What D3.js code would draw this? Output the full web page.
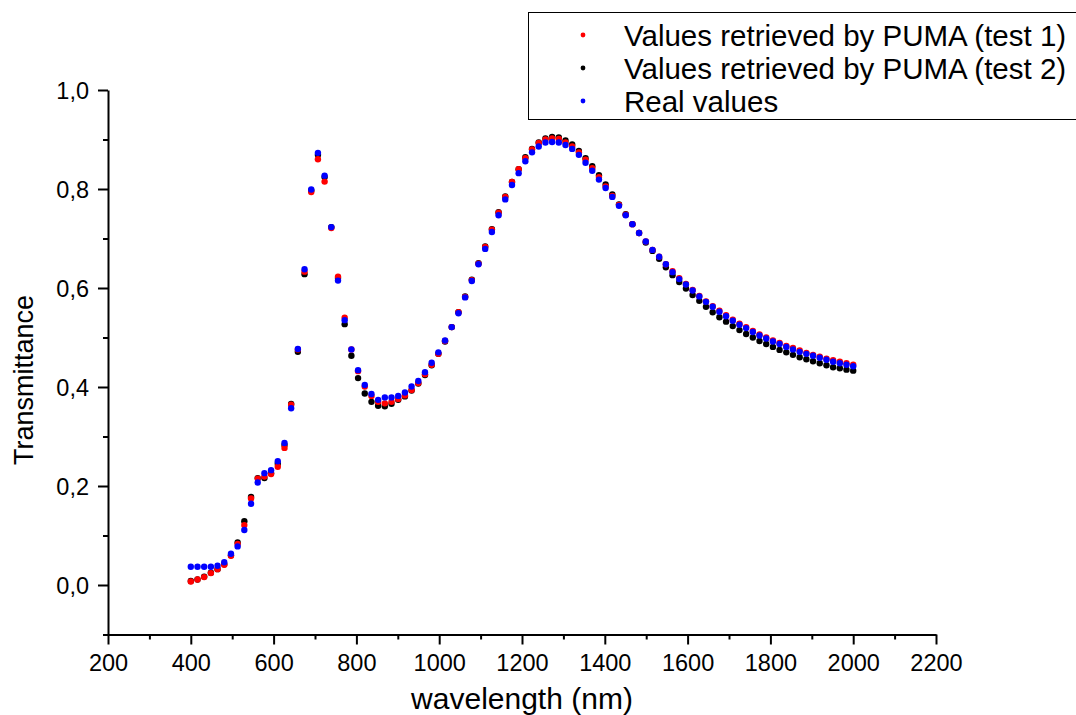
<!DOCTYPE html>
<html>
<head>
<meta charset="utf-8">
<script src="https://cdn.jsdelivr.net/npm/d3@7"></script>
<style>
  html, body { margin: 0; padding: 0; background: #fff; }
  svg { display: block; }
  text { font-family: "Liberation Sans", Arial, sans-serif; fill: #000; }
</style>
</head>
<body>
<svg id="chart" width="1076" height="715"></svg>
<script>
const wavelength = [
  400.0, 416.2, 432.3, 448.5, 464.6, 480.8, 497.0, 513.1, 529.3, 545.5,
  561.6, 577.8, 593.9, 610.1, 626.3, 642.4, 658.6, 674.7, 690.9, 707.1,
  723.2, 739.4, 755.6, 771.7, 787.9, 804.0, 820.2, 836.4, 852.5, 868.7,
  884.8, 901.0, 917.2, 933.3, 949.5, 965.7, 981.8, 998.0, 1014.1, 1030.3,
  1046.5, 1062.6, 1078.8, 1094.9, 1111.1, 1127.3, 1143.4, 1159.6, 1175.8, 1191.9,
  1208.1, 1224.2, 1240.4, 1256.6, 1272.7, 1288.9, 1305.1, 1321.2, 1337.4, 1353.5,
  1369.7, 1385.9, 1402.0, 1418.2, 1434.3, 1450.5, 1466.7, 1482.8, 1499.0, 1515.2,
  1531.3, 1547.5, 1563.6, 1579.8, 1596.0, 1612.1, 1628.3, 1644.4, 1660.6, 1676.8,
  1692.9, 1709.1, 1725.3, 1741.4, 1757.6, 1773.7, 1789.9, 1806.1, 1822.2, 1838.4,
  1854.5, 1870.7, 1886.9, 1903.0, 1919.2, 1935.4, 1951.5, 1967.7, 1983.8, 2000.0
];

const pumaTest1 = [
  0.007, 0.011, 0.016, 0.024, 0.032, 0.041, 0.059, 0.083, 0.121, 0.175,
  0.215, 0.219, 0.224, 0.239, 0.277, 0.364, 0.476, 0.633, 0.794, 0.860,
  0.815, 0.721, 0.623, 0.540, 0.476, 0.432, 0.401, 0.382, 0.370, 0.367,
  0.370, 0.376, 0.383, 0.394, 0.408, 0.426, 0.445, 0.467, 0.493, 0.521,
  0.551, 0.582, 0.616, 0.649, 0.683, 0.718, 0.752, 0.784, 0.814, 0.840,
  0.862, 0.880, 0.893, 0.900, 0.902, 0.901, 0.894, 0.886, 0.874, 0.859,
  0.842, 0.824, 0.805, 0.786, 0.768, 0.748, 0.729, 0.711, 0.694, 0.677,
  0.663, 0.648, 0.634, 0.620, 0.608, 0.596, 0.584, 0.573, 0.563, 0.554,
  0.545, 0.536, 0.528, 0.521, 0.513, 0.506, 0.500, 0.494, 0.489, 0.483,
  0.479, 0.474, 0.469, 0.465, 0.461, 0.457, 0.454, 0.451, 0.448, 0.445
];

const pumaTest2 = [
  0.008, 0.011, 0.017, 0.025, 0.032, 0.042, 0.060, 0.086, 0.129, 0.178,
  0.216, 0.216, 0.226, 0.245, 0.283, 0.366, 0.471, 0.628, 0.797, 0.869,
  0.824, 0.723, 0.620, 0.527, 0.463, 0.418, 0.387, 0.370, 0.362, 0.361,
  0.366, 0.374, 0.381, 0.393, 0.407, 0.424, 0.444, 0.467, 0.492, 0.521,
  0.551, 0.583, 0.617, 0.650, 0.684, 0.719, 0.753, 0.785, 0.814, 0.840,
  0.864, 0.881, 0.894, 0.902, 0.905, 0.904, 0.898, 0.890, 0.877, 0.862,
  0.846, 0.828, 0.809, 0.789, 0.769, 0.749, 0.729, 0.711, 0.692, 0.675,
  0.659, 0.642, 0.626, 0.612, 0.599, 0.586, 0.574, 0.562, 0.551, 0.541,
  0.532, 0.523, 0.515, 0.507, 0.500, 0.493, 0.487, 0.481, 0.475, 0.470,
  0.465, 0.460, 0.456, 0.452, 0.448, 0.444, 0.440, 0.438, 0.435, 0.433
];

const realValues = [
  0.037, 0.037, 0.037, 0.037, 0.039, 0.046, 0.063, 0.078, 0.111, 0.164,
  0.207, 0.226, 0.232, 0.250, 0.287, 0.357, 0.477, 0.638, 0.799, 0.873,
  0.827, 0.723, 0.615, 0.535, 0.476, 0.434, 0.404, 0.386, 0.374, 0.379,
  0.379, 0.382, 0.389, 0.401, 0.412, 0.430, 0.449, 0.470, 0.494, 0.521,
  0.549, 0.581, 0.614, 0.648, 0.679, 0.713, 0.747, 0.779, 0.808, 0.832,
  0.856, 0.874, 0.886, 0.894, 0.895, 0.894, 0.889, 0.881, 0.869, 0.853,
  0.837, 0.819, 0.802, 0.784, 0.766, 0.747, 0.729, 0.711, 0.694, 0.677,
  0.663, 0.648, 0.632, 0.618, 0.607, 0.595, 0.583, 0.572, 0.562, 0.552,
  0.543, 0.534, 0.526, 0.519, 0.511, 0.504, 0.498, 0.492, 0.487, 0.481,
  0.476, 0.471, 0.467, 0.463, 0.459, 0.455, 0.451, 0.448, 0.445, 0.442
];

const xMajorTicks = [200, 400, 600, 800, 1000, 1200, 1400, 1600, 1800, 2000, 2200];
const xMinorTicks = [300, 500, 700, 900, 1100, 1300, 1500, 1700, 1900, 2100];
const yMajorTicks = [0.0, 0.2, 0.4, 0.6, 0.8, 1.0];
const yMinorTicks = [-0.1, 0.1, 0.3, 0.5, 0.7, 0.9];

const seriesNames = ["Values retrieved by PUMA (test 1)", "Values retrieved by PUMA (test 2)", "Real values"];
const seriesColors = ["#ff0000", "#000000", "#0000ff"];
const seriesData = [pumaTest1, pumaTest2, realValues];
const drawOrder = [1, 0, 2];

const svg = d3.select("#chart");

const x = d3.scaleLinear().domain([200, 2200]).range([108, 936]);
const y = d3.scaleLinear().domain([-0.1, 1.0]).range([634.5, 90]);

const fmtY = v => d3.format(".1f")(v).replace(".", ",");

// x axis
const gxMinor = svg.append("g").attr("transform", `translate(0,${y(-0.1)})`)
  .call(d3.axisBottom(x).tickValues(xMinorTicks).tickSize(5).tickSizeOuter(0).tickFormat(""));
gxMinor.select(".domain").remove();
const gx = svg.append("g").attr("transform", `translate(0,${y(-0.1)})`)
  .call(d3.axisBottom(x).tickValues(xMajorTicks).tickSize(10).tickSizeOuter(0).tickFormat(d3.format("d")));
gx.selectAll("text").attr("y", 36).attr("dy", 0).style("font-size", "23.5px");

// y axis
const gyMinor = svg.append("g").attr("transform", `translate(${x(200)},0)`)
  .call(d3.axisLeft(y).tickValues(yMinorTicks).tickSize(5).tickSizeOuter(0).tickFormat(""));
gyMinor.select(".domain").remove();
const gy = svg.append("g").attr("transform", `translate(${x(200)},0)`)
  .call(d3.axisLeft(y).tickValues(yMajorTicks).tickSize(10).tickSizeOuter(0).tickFormat(fmtY));
gy.selectAll("text").attr("x", -19).attr("dy", "0.36em").style("font-size", "23.5px");

svg.selectAll(".domain, .tick line").attr("stroke", "#000").attr("stroke-width", 2);

// axis titles
svg.append("text")
  .attr("x", (x(200) + x(2200)) / 2).attr("y", 709)
  .attr("text-anchor", "middle").style("font-size", "30px")
  .text("wavelength (nm)");
svg.append("text")
  .attr("transform", "translate(33,380) rotate(-90)")
  .attr("text-anchor", "middle").style("font-size", "27px")
  .text("Transmittance");

// data points
drawOrder.forEach(k => {
  svg.append("g")
    .selectAll("circle")
    .data(seriesData[k].map((v, i) => ({ w: wavelength[i], v })))
    .join("circle")
    .attr("cx", d => x(d.w))
    .attr("cy", d => y(d.v))
    .attr("r", 3.2)
    .attr("fill", seriesColors[k]);
});

// legend
const legend = svg.append("g");
legend.append("rect")
  .attr("x", 528.5).attr("y", 12.5).attr("width", 600).attr("height", 107)
  .attr("fill", "#fff").attr("stroke", "#000").attr("stroke-width", 1);
seriesNames.forEach((name, i) => {
  const cy = 35 + i * 33;
  legend.append("circle").attr("cx", 583).attr("cy", cy).attr("r", 2.4).attr("fill", seriesColors[i]);
  legend.append("text").attr("x", 624).attr("y", cy + 10.5)
    .style("font-size", "29.5px").text(name);
});
</script>
</body>
</html>
